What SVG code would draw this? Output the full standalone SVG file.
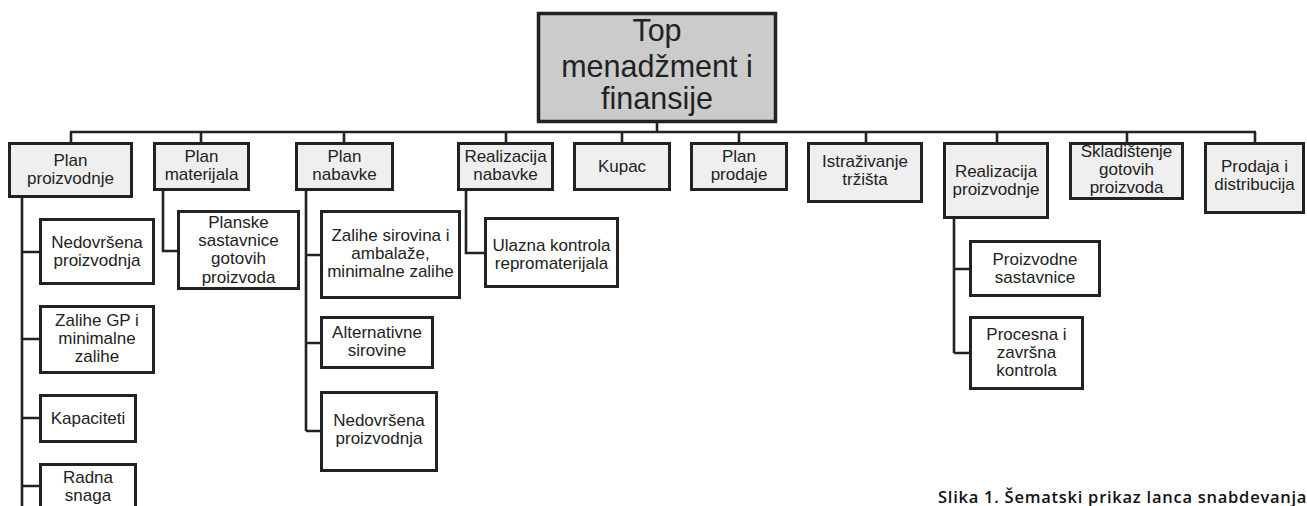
<svg xmlns="http://www.w3.org/2000/svg" width="1307" height="506" viewBox="0 0 1307 506">
  <style>
    .box { stroke: #222; stroke-width: 3; }
    .top { fill: #cbcbcb; stroke-width: 3.5; }
    .lvl1 { fill: #efefef; }
    .leaf { fill: #ffffff; }
    .lbl { font-family: "Liberation Sans", Arial, sans-serif; font-size: 17px; fill: #222; text-anchor: middle; }
    .big { font-size: 30.5px; }
    .wire { fill: none; stroke: #222; stroke-width: 2.6; }
    .caption { font-family: "Open Sans", "Noto Sans", sans-serif; font-weight: 600; font-size: 16.5px; letter-spacing: 0.75px; fill: #111; }
  </style>

  <!-- connectors -->
  <g id="connectors" class="wire">
    <path d="M657 123 V132"/>
    <path d="M70 132 H1256"/>
    <path d="M71 132 V142 M201 132 V142 M344 132 V142 M506 132 V142 M622 132 V142 M739 132 V142 M866 132 V142 M997 132 V142 M1127 132 V142 M1255 132 V142"/>
    <path d="M22 198 V510 M22 252 H39 M22 339 H39 M22 418 H39 M22 486 H39"/>
    <path d="M163 191 V251 H177"/>
    <path d="M306 191 V431 M306 255 H320 M306 343 H320 M306 431 H320"/>
    <path d="M466 191 V253 H484"/>
    <path d="M954 219 V353 M954 269 H969 M954 353 H969"/>
  </g>

  <!-- root -->
  <g id="top-menadzment">
    <rect class="box top" x="538.5" y="13.5" width="237" height="108"/>
    <text class="lbl big"><tspan x="657" y="41">Top</tspan><tspan x="657" y="77">menadžment i</tspan><tspan x="657" y="109">finansije</tspan></text>
  </g>

  <!-- first level -->
  <g id="plan-proizvodnje">
    <rect class="box lvl1" x="9.5" y="143.5" width="122" height="53"/>
    <text class="lbl"><tspan x="70.5" y="166">Plan</tspan><tspan x="70.5" y="184">proizvodnje</tspan></text>
  </g>
  <g id="plan-materijala">
    <rect class="box lvl1" x="154.5" y="143.5" width="94" height="46"/>
    <text class="lbl"><tspan x="201.5" y="162">Plan</tspan><tspan x="201.5" y="180">materijala</tspan></text>
  </g>
  <g id="plan-nabavke">
    <rect class="box lvl1" x="296.5" y="143.5" width="96" height="46"/>
    <text class="lbl"><tspan x="344.5" y="162">Plan</tspan><tspan x="344.5" y="180">nabavke</tspan></text>
  </g>
  <g id="realizacija-nabavke">
    <rect class="box lvl1" x="458.5" y="143.5" width="94" height="46"/>
    <text class="lbl"><tspan x="505.5" y="162">Realizacija</tspan><tspan x="505.5" y="180">nabavke</tspan></text>
  </g>
  <g id="kupac">
    <rect class="box lvl1" x="574.5" y="143.5" width="95" height="46"/>
    <text class="lbl" x="622" y="172">Kupac</text>
  </g>
  <g id="plan-prodaje">
    <rect class="box lvl1" x="691.5" y="143.5" width="95" height="46"/>
    <text class="lbl"><tspan x="739" y="162">Plan</tspan><tspan x="739" y="180">prodaje</tspan></text>
  </g>
  <g id="istrazivanje-trzista">
    <rect class="box lvl1" x="808.5" y="143.5" width="113" height="58"/>
    <text class="lbl"><tspan x="865" y="167">Istraživanje</tspan><tspan x="865" y="185">tržišta</tspan></text>
  </g>
  <g id="realizacija-proizvodnje">
    <rect class="box lvl1" x="944.5" y="143.5" width="103" height="74"/>
    <text class="lbl"><tspan x="996" y="177">Realizacija</tspan><tspan x="996" y="195">proizvodnje</tspan></text>
  </g>
  <g id="skladistenje">
    <rect class="box lvl1" x="1070.5" y="143.5" width="112" height="55"/>
    <text class="lbl"><tspan x="1126.5" y="157">Skladištenje</tspan><tspan x="1126.5" y="175">gotovih</tspan><tspan x="1126.5" y="193">proizvoda</tspan></text>
  </g>
  <g id="prodaja-distribucija">
    <rect class="box lvl1" x="1205.5" y="143.5" width="98" height="69"/>
    <text class="lbl"><tspan x="1254.5" y="172">Prodaja i</tspan><tspan x="1254.5" y="190">distribucija</tspan></text>
  </g>

  <!-- second level: plan proizvodnje -->
  <g id="pp-nedovrsena">
    <rect class="box leaf" x="40.5" y="219.5" width="113" height="64"/>
    <text class="lbl"><tspan x="97" y="248">Nedovršena</tspan><tspan x="97" y="266">proizvodnja</tspan></text>
  </g>
  <g id="pp-zalihe-gp">
    <rect class="box leaf" x="40.5" y="306.5" width="113" height="66"/>
    <text class="lbl"><tspan x="97" y="326">Zalihe GP i</tspan><tspan x="97" y="344">minimalne</tspan><tspan x="97" y="362">zalihe</tspan></text>
  </g>
  <g id="pp-kapaciteti">
    <rect class="box leaf" x="40.5" y="395.5" width="95" height="46"/>
    <text class="lbl" x="88" y="424">Kapaciteti</text>
  </g>
  <g id="pp-radna-snaga">
    <rect class="box leaf" x="40.5" y="464.5" width="95" height="60"/>
    <text class="lbl"><tspan x="88" y="483">Radna</tspan><tspan x="88" y="501">snaga</tspan></text>
  </g>

  <!-- second level: plan materijala -->
  <g id="pm-planske-sastavnice">
    <rect class="box leaf" x="178.5" y="211.5" width="120" height="77"/>
    <text class="lbl"><tspan x="238.5" y="228">Planske</tspan><tspan x="238.5" y="246">sastavnice</tspan><tspan x="238.5" y="264">gotovih</tspan><tspan x="238.5" y="283">proizvoda</tspan></text>
  </g>

  <!-- second level: plan nabavke -->
  <g id="pn-zalihe-sirovina">
    <rect class="box leaf" x="321.5" y="211.5" width="138" height="86"/>
    <text class="lbl"><tspan x="390.5" y="241">Zalihe sirovina i</tspan><tspan x="390.5" y="259">ambalaže,</tspan><tspan x="390.5" y="277">minimalne zalihe</tspan></text>
  </g>
  <g id="pn-alternativne">
    <rect class="box leaf" x="321.5" y="317.5" width="111" height="50"/>
    <text class="lbl"><tspan x="377" y="338">Alternativne</tspan><tspan x="377" y="356">sirovine</tspan></text>
  </g>
  <g id="pn-nedovrsena">
    <rect class="box leaf" x="321.5" y="392.5" width="115" height="78"/>
    <text class="lbl"><tspan x="379" y="426">Nedovršena</tspan><tspan x="379" y="444">proizvodnja</tspan></text>
  </g>

  <!-- second level: realizacija nabavke -->
  <g id="rn-ulazna-kontrola">
    <rect class="box leaf" x="485.5" y="218.5" width="132" height="68"/>
    <text class="lbl"><tspan x="551.5" y="251">Ulazna kontrola</tspan><tspan x="551.5" y="269">repromaterijala</tspan></text>
  </g>

  <!-- second level: realizacija proizvodnje -->
  <g id="rp-proizvodne-sastavnice">
    <rect class="box leaf" x="970.5" y="241.5" width="129" height="54"/>
    <text class="lbl"><tspan x="1035" y="265">Proizvodne</tspan><tspan x="1035" y="283">sastavnice</tspan></text>
  </g>
  <g id="rp-procesna-kontrola">
    <rect class="box leaf" x="970.5" y="317.5" width="112" height="71"/>
    <text class="lbl"><tspan x="1026.5" y="340">Procesna i</tspan><tspan x="1026.5" y="358">završna</tspan><tspan x="1026.5" y="376">kontrola</tspan></text>
  </g>

  <!-- figure caption -->
  <text class="caption" x="938" y="503">Slika 1. Šematski prikaz lanca snabdevanja</text>
</svg>
